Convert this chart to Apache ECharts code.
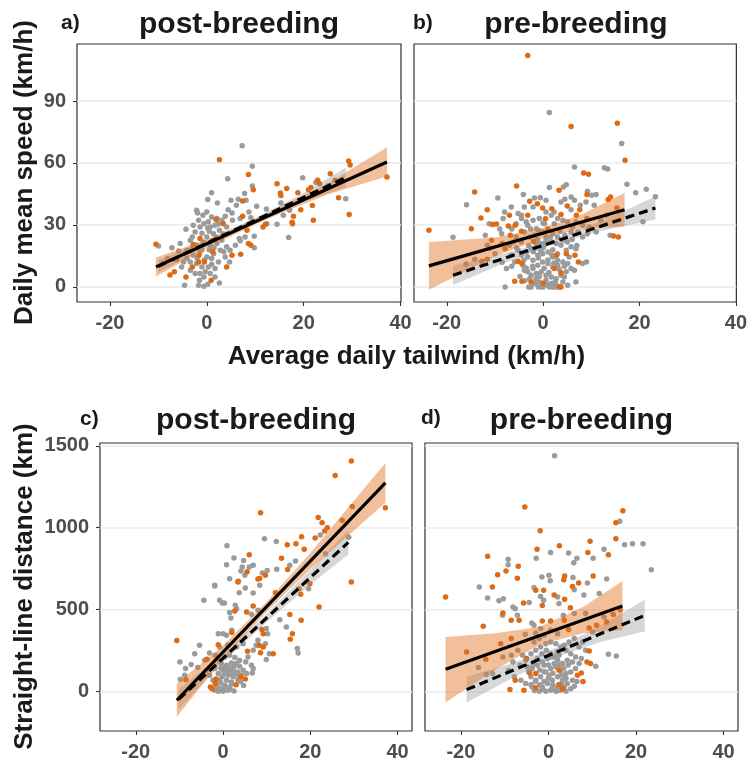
<!DOCTYPE html>
<html><head><meta charset="utf-8">
<script src="https://cdn.jsdelivr.net/npm/echarts@6/dist/echarts.min.js"></script>
<style>html,body{margin:0;padding:0;background:#fff}#c{width:750px;height:763px}</style>
</head><body><div id="c"></div>
<script>
// ---------- tick labels ----------
var xTicks = [-20, 0, 20, 40];
var speedTicks = [0, 30, 60, 90];
var distTicks = [0, 500, 1000, 1500];

// ---------- panel a: post-breeding, daily mean speed ----------
var aGray = [[7.3,68.4],[9.4,58.4],[4.3,52.4],[9.4,48.9],[1.0,45.6],[0.2,42.3],[2.2,40.6],[5.0,41.9],[6.5,42.4],[7.8,45.2],[8.1,41.9],[6.1,39.5],[4.4,37.4],[-2.1,37.1],[-1.9,35.8],[0,36.3],[1.0,33.9],[2.1,33.1],[5.3,32.3],[6.9,33.1],[8.7,36.3],[9.1,33.5],[10.3,39],[12.3,37.7],[15.3,40.6],[19.8,52.9],[17.1,37.1],[16.9,23.9],[14.5,30.3],[15.8,34.7],[28.7,42.7],[9.8,24.5],[9.8,19],[6.9,22.3],[-4.3,27.9],[-5.5,21],[-7.2,19],[-10,19.8],[-5.8,17.4],[-3.0,24.2],[-2.4,26.6],[-1.4,29],[-0.6,30.6],[0.3,31.5],[0.7,29],[1.7,29.8],[2.6,27.4],[3.4,25.8],[4.1,29],[3.1,32.3],[1.4,25.8],[0,24.2],[-0.7,21.8],[0.7,20.2],[2.1,21],[3.1,22.6],[4.1,19.4],[4.8,17.7],[2.8,17.7],[1.4,16.1],[0,14.5],[-1.4,16.9],[-2.8,15.3],[-4.1,13.7],[-4.8,12.1],[-3.4,12.1],[-2.1,11.3],[-1.0,9.7],[0.3,9.7],[1.7,8.9],[-0.3,7.3],[-1.4,6.5],[-0.6,4.8],[-1.5,3.2],[-1.7,0.8],[-0.6,0.3],[0.2,1.3],[-4.6,0.8],[2.6,1.9],[4.7,12.1],[-5.2,9.7],[-6.2,13.2],[-8.1,13.7],[-9.1,11.3],[-2.8,29.8],[-1.7,32.3],[-0.8,34.7],[3.8,34.2],[5.2,35.8],[12.4,30.6],[6.7,23.4],[7.9,24.2],[5.9,20.2],[-4.1,17.7],[-2.1,20.2],[-3.4,22.6],[1.0,13.7],[2.4,12.1],[3.8,14.5],[-2.4,6.5],[-3.4,8.1],[1.7,4.8],[0.7,6.5],[22.5,50.5],[25,49],
 [-1,18],[0.5,18],[1.5,19],[2,24],[0.5,27],[-1,26],[-0.5,13],[1,11],[-2,14],[3.5,17],[-3,19],[1.2,22.5],[0.2,28.5],[2.4,30.5]];
var aOrange = [[2.6,61.6],[-10.5,20.6],[8.6,54.4],[9.6,47.1],[7.4,41.6],[7.4,34.2],[8.3,27.4],[8.6,21.0],[9.1,20.2],[7.0,15.8],[4.1,9.7],[0.9,3.2],[-4.3,4.8],[-7.6,5.8],[-6.7,7.3],[-3.0,9.7],[-1.7,12.1],[-1.6,15.3],[-0.5,12.1],[-1.4,23.4],[1.9,32.6],[3.4,30.6],[5.2,15.3],[11.6,29.0],[12.1,30.3],[14.5,50],[15.2,45.5],[15.3,44.2],[16.5,47.6],[17.6,31.3],[17.9,34.2],[17.7,30.6],[18.8,45.6],[19.4,37.4],[21.8,39.4],[22.0,32.3],[21.0,47.1],[21.5,48.1],[22.9,51.6],[23.3,50],[25.5,54.8],[26.5,51.6],[27.2,43.2],[29.3,61],[29.6,59],[29.4,35],[37.2,53.2],[-2.8,20.5],[1.2,17]];
var aFitOrange = [[-10.5,9.7],[37.2,60.5]];
var aFitGray = [[-10,10],[28.7,53]];
var aBandOrange = [[-10.5,5.1,14.3],[0,18.9,22.9],[12,32.4,35.0],[25,44.9,50.1],[37.2,53.4,67.6]];
var aBandGray = [[-10,6.8,13.2],[0,19.8,22.4],[10,31.0,33.4],[20,41.1,45.5],[28.7,48.2,57.8]];

// ---------- panel b: pre-breeding, daily mean speed ----------
var bGray = [[1.3,84.4],[16.3,69.4],[6.5,58],[12.7,57.7],[13.4,57.1],[17.4,49.7],[-4.1,44.8],[1.3,48.1],[4.2,48.4],[4.8,49.5],[9.2,46.3],[10.1,44.4],[11.0,44.7],[19.2,45.6],[21.4,47.3],[23.3,43.7],[-15.9,39.8],[-9.4,43.1],[-18.7,24.0],[-11.2,30.6],[-8.3,33.1],[-5.6,30.6],[-4.5,33.1],[-2.1,38.7],[-1.8,43.1],[-0.6,43.2],[0.6,41.9],[4.5,42.4],[5.8,37.4],[7.7,39.5],[8.9,41.1],[10.6,39.5],[12.0,32.3],[13.2,34.7],[13.9,25],[20.7,31.5],[-8.6,25.8],[-6.2,21.8],[-11.6,20.2],[-14.2,13.4],[-16.0,11.1],[-5.9,12.1],[-7.6,8.9],[-7.9,0],[6.8,2.4],[5.1,11.3],[8.2,11.3],[9.0,12.1],
 [-3.9,26.6],[-2.8,24.2],[-1.8,25.0],[-1.0,27.4],[-0.1,26.6],[1.0,27.4],[2.0,25.8],[3.0,24.2],[4.1,22.6],[5.0,21.8],[5.8,19.4],[4.8,17.7],[3.7,20.2],[2.7,21.0],[1.7,21.8],[0.6,22.6],[-0.4,21.0],[-1.4,20.2],[-2.5,18.5],[-3.5,16.9],[-4.5,15.3],[-5.2,17.7],[-3.2,14.5],[-2.1,12.9],[-1.1,15.3],[-0.1,16.1],[1.0,16.9],[2.0,14.5],[3.0,12.9],[4.1,12.1],[3.0,10.5],[2.0,9.7],[1.0,11.3],[-0.1,12.1],[-1.1,10.5],[-2.1,8.9],[-3.2,7.3],[-4.2,10.5],[-2.5,5.6],[-1.4,6.5],[-0.4,7.3],[0.6,5.6],[1.7,4.8],[2.7,4.0],[3.7,5.6],[4.8,7.3],[5.8,8.9],[0.6,3.2],[-0.8,2.4],[-1.8,1.6],[1.7,1.6],[2.7,0.8],[4.1,2.4],[5.1,0.8],[-2.8,4.0],[-3.9,8.1],[-2.5,0],[-0.4,0],[1.3,0],[2.3,0],[-1.4,28.2],[-4.5,34.7],[-3.5,31.5],[0.3,30.6],[2.3,30.6],[4.1,32.3],[6.1,29.0],[7.2,26.6],[8.2,24.2],[5.8,26.6],[0.6,24.2],[-1.1,21.8],[-4.5,21.8],[-5.6,24.2],[-7.0,20.2],[-6.6,15.3],[6.8,18.5],[5.4,14.5],[6.5,8.1],[4.4,4.8],[-3.2,29.8],[-2.1,32.3],[1.7,34.7],[3.0,33.1],[5.1,31.5],[6.8,31.5],[8.2,29.8],[9.6,29.0],[11.0,26.6],[9.2,25.8],[-0.8,33.1],[0.6,36.3],[2.3,36.3],[3.7,41.1],[5.8,43.5],[6.5,41.9],[-3.9,38.7],[-5.2,35.5],[-6.6,38.7],[-8.0,36.3],
 [-3,20],[-2,17],[-1,14],[0,19],[1,13],[2,18],[3,16],[-4,13],[-3.5,9],[-1.5,4],[0.2,9],[1.2,7],[2.5,2.5],[-0.8,5],[-2.2,10],[3.3,8.5],[4.4,10],[-4.8,5],[-3.8,3],[0.8,1],[-1.2,23],[1.5,24],[3.5,27],[-2.6,28],[0,31],[-5.5,19],[4.5,25],[6,23],[7,20],[-6.5,10],[-1.8,18.5],[1.8,15.5],[2.2,11.5],[-0.5,17.5],[0.4,20.8],[-3,0],[0,0],[3,0],[-1,0],[1.9,0],[-9,28],[-10,16],[-8.5,12],[-12,25],[-6.5,28]];
var bOrange = [[-3.2,112],[5.8,77.7],[15.4,79.2],[17.0,61.3],[8.4,55.2],[9.4,54.5],[-14.2,46],[-5.5,48.9],[3.3,46.8],[9.1,44.7],[13.5,42.3],[14.0,43.5],[-11.6,37.4],[-12.9,33.4],[-14.9,28.2],[-23.7,27.4],[-10.5,30.2],[-9.7,30.5],[-7.0,34.7],[-7.2,29.5],[-5.8,29.8],[-3.2,34.7],[-2.8,41.5],[-1.2,40.3],[-0.1,38.2],[1.8,37.9],[3.7,35],[5.0,39.2],[7.6,37.3],[6.9,34.7],[9.1,33.1],[15.3,38.2],[14.6,24.7],[15.6,24.2],[-10.7,22.6],[-6.8,25],[-8.5,21],[-7.9,18.5],[-11.1,18.9],[-12.7,12.4],[-11.6,13.4],[-5.2,12.4],[-4.4,11.3],[-5.9,2.7],[-4.4,2.7],[-2.5,2.4],[0,1.8],[3.4,0],[3.7,0],[4.8,16.1],[6.6,15.3],[7.3,12.1],[2.8,15.3],[2.3,8.9],[3.7,6.9],[-2,22],[1,28],[-4.5,27],[0.5,33]];
var bFitOrange = [[-23.7,10.2],[16.9,37.4]];
var bFitGray = [[-18.7,5.6],[23.3,38.2]];
var bBandOrange = [[-23.7,-1.4,21.8],[-10,14.9,23.9],[0,23.6,28.6],[8,28.0,35.0],[16.9,29.3,45.5]];
var bBandGray = [[-18.7,0.9,10.3],[-8,11.6,16.2],[2,20.4,23.0],[12,27.1,31.7],[23.3,32.6,43.8]];

// ---------- panel c: post-breeding, straight-line distance ----------
var cGray = [[22.3,955],[28.8,941],[9.5,933],[12.2,915],[0.9,890],[2.5,815],[4.7,800],[0.8,774],[4.4,760],[6.0,760],[6.9,770],[4.1,735],[5.0,709],[1.5,688],[9.0,723],[10.1,739],[12.3,746],[15.3,770],[16.6,796],[23.5,841],[-1.9,648],[-1.9,644],[5.1,631],[3.7,603],[6.9,601],[8.4,648],[-4.4,556],[-0.8,556],[-0.2,540],[0.3,540],[2.8,526],[3.1,505],[1.5,481],[1.8,448],[6.5,471],[8.0,495],[19.6,627],[13.0,438],[14.5,393],[17.0,261],[17.2,234],[9.9,383],[10.2,352],[8.0,312],[9.7,291],[10.6,230],[9.9,194],[6.9,251],[7.6,281],[6.9,139],[6.7,112],[4.7,35],[2.5,2],[2.0,373],[-1.1,352],[0,352],[0.8,342],[-9.9,179],[-8.6,139],[-9.8,73],[-7.3,163],[-5.8,145],[-4.2,189],[-3.1,234],[-1.8,220],
 [-0.4,169],[0.8,159],[1.9,173],[3.1,169],[3.8,153],[4.6,128],[3.4,118],[2.3,132],[1.1,124],[0,128],[-1.1,108],[-0.2,88],[1.1,98],[2.3,88],[3.4,71],[1.9,57],[0.8,67],[-0.8,67],[-1.9,6],[-1.1,0],[0,0],[1.1,6],[-0.4,16],[0.4,37],[1.5,26],[-1.5,37],[-2.3,67],[-3.1,98],[-3.8,128],[-1.9,139],[-0.8,189],[0.4,210],[1.5,220],[2.7,206],[3.8,189],[5.2,179],[5.7,210],[6.5,159],[5.4,108],[4.2,98],[3.1,271],[4.6,291],[1.1,281],[-0.8,271],[-5.4,281],[-6.5,230],[-8.8,98],
 [0.5,150],[1.5,140],[2.5,150],[3.5,100],[2.9,110],[1.8,110],[0.3,110],[-0.5,140],[4,60],[2,45],[-0.5,50],[-1.2,20],[0.6,10],[1.6,12]];
var cOrange = [[29.4,1408],[25.7,1320],[8.6,1092],[37.2,1122],[29.6,1130],[21.8,1063],[22.7,1031],[23.9,1000],[23.3,980],[27.3,1045],[21.1,937],[18.0,945],[14.7,896],[16.7,902],[18.6,868],[6.0,835],[13.4,813],[5.5,731],[8.4,690],[8.0,686],[9.7,709],[3.5,672],[14.8,744],[29.4,668],[19.9,658],[-10.6,310],[3.4,668],[2.7,491],[5.4,485],[6.9,521],[12.0,603],[17.4,627],[17.8,593],[22.0,515],[15.3,469],[17.9,434],[15.9,352],[15.4,318],[8.9,377],[9.2,352],[8.3,281],[9.2,271],[8.6,236],[11.5,230],[5.6,244],[4.1,88],[5.1,75],[2.0,359],[-1.1,285],[-1.6,75],[-1.8,47],[-2.9,26],[-8.5,71],[-3.7,196],[-2.5,15],[3,40]];
var cFitOrange = [[-10.6,-55],[37.2,1274]];
var cFitGray = [[-10.2,-50],[28.7,910]];
var cBandOrange = [[-10.6,-157,47],[0,200,280],[10,488,548],[20,746,846],[37.2,1152,1396]];
var cBandGray = [[-10.2,-110,10],[0,177,227],[10,424,474],[20,651,741],[28.7,836,986]];

// ---------- panel d: pre-breeding, straight-line distance ----------
var dGray = [[1.4,1440],[16.3,1039],[17.4,896],[19.2,902],[21.6,902],[12.7,868],[0.5,849],[4.6,845],[-9.2,807],[-2.8,813],[6.5,813],[10.2,813],[5.8,786],[-9.2,774],[23.5,743],[-1.5,699],[0.1,709],[0.4,676],[5.6,695],[13.3,686],[8.9,662],[-15.8,638],[-13.9,570],[-11.3,553],[-10.3,566],[-10.5,464],[-8.1,515],[-7.6,505],[-7.1,464],[-4.4,542],[-3.3,634],[-1.8,580],[-1.1,556],[2.1,576],[2.4,536],[5.9,621],[8.1,588],[5.9,475],[8.5,475],[11.6,597],[12.7,454],[10.1,363],[-5.3,348],[-2.9,356],[-1.8,383],[-3.8,418],[-3.3,403],[3.4,464],[-16.0,145],[-14.2,102],[-12.8,108],[-10.4,210],[-8.1,179],[-9.1,128],[10.8,153],[13.7,226],[15.5,216],
 [-5.9,220],[-5.2,189],[-4.0,230],[-2.9,250],[-1.8,271],[-0.6,291],[0.5,301],[1.7,291],[2.8,271],[4.0,250],[5.1,230],[6.2,210],[5.5,179],[4.3,189],[3.2,169],[2.1,189],[0.9,210],[-0.2,200],[-1.4,179],[-2.5,159],[-3.7,139],[-4.8,149],[-4.0,88],[-2.9,67],[-1.8,88],[-0.6,118],[0.5,139],[1.7,149],[2.8,128],[4.0,108],[5.1,118],[6.2,139],[7.0,169],[5.5,67],[4.3,47],[3.2,67],[2.1,88],[0.9,67],[-0.2,47],[-1.4,26],[-2.1,0],[-0.6,0],[0.5,6],[1.7,0],[2.8,6],[4.0,0],[5.1,16],[5.9,31],[0.2,98],[-1.0,159],[1.3,169],[2.4,220],[3.6,281],[4.7,301],[5.9,322],[7.0,271],[7.8,301],[-2.1,322],[-3.3,301],[-1.0,342],[2.1,352],[0.5,373],[-3.7,26],[-5.2,47],[-6.3,67],[-7.8,88],
 [-4.5,120],[-3.5,170],[-2.5,200],[-1.5,230],[-0.5,250],[0.5,230],[1.5,210],[2.5,160],[3.5,140],[4.5,160],[-3,60],[-2,40],[-1,60],[0,80],[1,40],[2,20],[3,40],[4,80],[-4,40],[-1,120],[1,110],[0,160],[-2,130],[3,100],[2,240],[-1.2,10],[0.8,15],[2.2,5],[3.6,25],[-3.2,5],[6.5,60],[7.5,200],[8.5,250],[-6.5,160],[-7,250],[-8.5,220]];
var dOrange = [[-5.4,1126],[17.0,1104],[15.4,1031],[-1.9,982],[15.4,933],[9.5,917],[2.5,890],[-2.6,868],[9.0,849],[-13.9,825],[13.7,835],[-6.9,764],[-9.7,735],[-11.6,713],[-7.1,691],[3.7,705],[3.5,682],[10.2,705],[6.9,662],[-23.5,576],[-12.8,638],[-10.4,479],[-8.5,434],[-6.7,434],[-5.7,540],[-2.9,617],[-1.1,617],[-1.4,524],[1.3,588],[3.7,562],[5.0,511],[14.8,469],[16.4,499],[13.3,424],[11.0,403],[9.3,387],[-14.9,397],[-10.9,291],[-8.5,322],[-1.4,430],[0.5,430],[3.6,434],[4.6,377],[-18.7,240],[-14.3,196],[-7.6,67],[-8.8,10],[-5.6,6],[-5.0,200],[-4.3,112],[9.3,246],[8.8,179],[9.6,169],[6.6,98],[7.5,112],[7.9,59],[2.4,41],[3.2,16],[-2.9,22],[2.4,128],[-2.9,108],[5.5,640]];
var dFitOrange = [[-23.5,134],[16.9,521]];
var dFitGray = [[-18.7,10],[22.0,464]];
var dBandOrange = [[-23.5,-69,332],[-12,134,354],[-2,285,395],[8,356,516],[16.9,373,674]];
var dBandGray = [[-18.7,-68,88],[-8,84,174],[2,212,268],[12,302,402],[22,366,560]];

// ---------- styling ----------
var FONT = '"Liberation Sans", Arial, Helvetica, sans-serif';
var ORANGE = '#DE6A14';
var GRAY = '#9B9B9B';
var ORANGE_BAND = 'rgba(224,112,32,0.45)';
var GRAY_BAND = 'rgba(150,150,150,0.38)';
var TICKCOL = '#4D4D4D';

var chart = echarts.init(document.getElementById('c'), null, {renderer: 'canvas'});

var grids = [
  {left: 77, top: 44, width: 324, height: 258},
  {left: 414, top: 44, width: 324, height: 258},
  {left: 100, top: 443, width: 312, height: 288},
  {left: 425, top: 443, width: 313, height: 288}
].map(function (g) {
  return Object.assign(g, {show: true, borderColor: '#333', borderWidth: 1.2, backgroundColor: '#fff', containLabel: false});
});

function plain(v) { return String(v); }

function xAxisFor(i, min, max) {
  return {
    type: 'value', gridIndex: i, min: min, max: max,
    axisLine: {show: false, onZero: false},
    axisTick: {show: true, customValues: xTicks, length: 4, lineStyle: {color: '#333', width: 1.1}},
    axisLabel: {show: true, customValues: xTicks, formatter: plain, margin: 11, color: TICKCOL, fontSize: 20, fontWeight: 'bold', fontFamily: FONT, showMinLabel: true, showMaxLabel: true},
    splitLine: {show: false}
  };
}
function yAxisFor(i, min, max, ticks, labels) {
  return {
    type: 'value', gridIndex: i, min: min, max: max,
    axisLine: {show: false, onZero: false},
    axisTick: {show: labels, customValues: ticks, length: 4, lineStyle: {color: '#333', width: 1.1}},
    axisLabel: {show: labels, customValues: ticks, formatter: plain, margin: 11, color: TICKCOL, fontSize: 20, fontWeight: 'bold', fontFamily: FONT, showMinLabel: true, showMaxLabel: true},
    splitLine: {show: true, lineStyle: {color: '#EBEBEB', width: 1.6}}
  };
}

function bandSeries(i, band, color) {
  return {
    type: 'custom', xAxisIndex: i, yAxisIndex: i, silent: true, clip: true, z: 3,
    data: band,
    encode: {x: 0, y: [1, 2]},
    renderItem: function (params, api) {
      if (params.dataIndex !== 0) return null;
      var pts = [];
      for (var k = 0; k < band.length; k++) pts.push(api.coord([band[k][0], band[k][2]]));
      for (var k2 = band.length - 1; k2 >= 0; k2--) pts.push(api.coord([band[k2][0], band[k2][1]]));
      return {type: 'polygon', shape: {points: pts}, style: {fill: color, stroke: null}};
    }
  };
}
function scatterSeries(i, data, color) {
  return {type: 'scatter', xAxisIndex: i, yAxisIndex: i, data: data, symbolSize: 5.5, z: 2, silent: true,
    itemStyle: {color: color, opacity: 1}};
}
function fitSeries(i, data, dashed) {
  return {type: 'line', xAxisIndex: i, yAxisIndex: i, data: data, showSymbol: false, z: 4, silent: true,
    lineStyle: {color: '#000', width: 3.2, type: dashed ? [9, 5] : 'solid', cap: 'butt'}};
}

var panels = [
  [aGray, aOrange, aBandGray, aBandOrange, aFitGray, aFitOrange],
  [bGray, bOrange, bBandGray, bBandOrange, bFitGray, bFitOrange],
  [cGray, cOrange, cBandGray, cBandOrange, cFitGray, cFitOrange],
  [dGray, dOrange, dBandGray, dBandOrange, dFitGray, dFitOrange]
];
var series = [];
panels.forEach(function (p, i) {
  series.push(scatterSeries(i, p[0], GRAY));
  series.push(scatterSeries(i, p[1], ORANGE));
  series.push(bandSeries(i, p[2], GRAY_BAND));
  series.push(bandSeries(i, p[3], ORANGE_BAND));
  series.push(fitSeries(i, p[4], true));
  series.push(fitSeries(i, p[5], false));
});

function txt(text, x, y, size, opts) {
  opts = opts || {};
  return {
    type: 'text', x: x, y: y, rotation: opts.rotation || 0, silent: true, z: 10,
    style: {text: text, fill: opts.fill || '#1A1A1A', font: 'bold ' + size + 'px ' + FONT,
      align: opts.align || 'center', verticalAlign: 'middle'}
  };
}

var option = {
  animation: false,
  backgroundColor: '#fff',
  grid: grids,
  xAxis: [xAxisFor(0, -26.8, 40.1), xAxisFor(1, -26.8, 40.1), xAxisFor(2, -28.2, 43.3), xAxisFor(3, -28.2, 43.3)],
  yAxis: [yAxisFor(0, -7.3, 117.6, speedTicks, true), yAxisFor(1, -7.3, 117.6, speedTicks, false),
          yAxisFor(2, -243, 1518, distTicks, true), yAxisFor(3, -243, 1518, distTicks, false)],
  series: series,
  graphic: [
    txt('post-breeding', 239, 24.5, 30),
    txt('pre-breeding', 576, 24.5, 30),
    txt('a)', 61, 23.5, 21, {align: 'left'}),
    txt('b)', 413, 23.5, 21, {align: 'left'}),
    txt('post-breeding', 256, 420.5, 30),
    txt('pre-breeding', 581.5, 420.5, 30),
    txt('c)', 80, 419, 21, {align: 'left'}),
    txt('d)', 421, 418.5, 21, {align: 'left'}),
    txt('Daily mean speed (km/h)', 24.5, 172.5, 26, {rotation: Math.PI / 2}),
    txt('Straight-line distance (km)', 24.5, 586.5, 26, {rotation: Math.PI / 2}),
    txt('Average daily tailwind (km/h)', 406.5, 357, 26)
  ]
};
chart.setOption(option);
</script></body></html>
